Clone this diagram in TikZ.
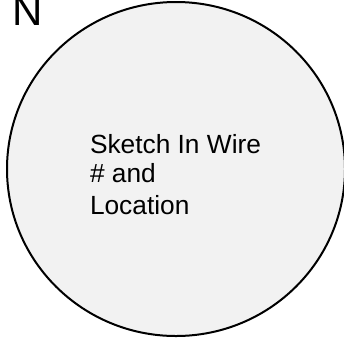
\documentclass[tikz,border=0pt]{standalone}
\usepackage{fontspec}
\setmainfont{Liberation Sans}
\usetikzlibrary{shapes.geometric}
\definecolor{discfill}{HTML}{F2F2F2}
\begin{document}
\begin{tikzpicture}[x=1pt,y=-1pt,
  disc/.style={ellipse, draw=black, line width=2pt, fill=discfill, inner sep=0pt, minimum width=338pt, minimum height=334pt},
  textline/.style={anchor=base west, inner sep=0pt, font=\fontsize{26.3}{30.5}\selectfont},
  northmark/.style={anchor=base west, inner sep=0pt, font=\fontsize{42}{42}\selectfont}]
\useasboundingbox (0,0) rectangle (344,341);
\node[disc] (circle) at (176,169) {};
\node[northmark] (north) at (11.8,25) {N};
\node[textline] (l1) at (89.8,153.3) {Sketch In Wire};
\node[textline] (l2) at (89.8,182.6) {\# and};
\node[textline] (l3) at (89.8,214.3) {Location};
\end{tikzpicture}
\end{document}
